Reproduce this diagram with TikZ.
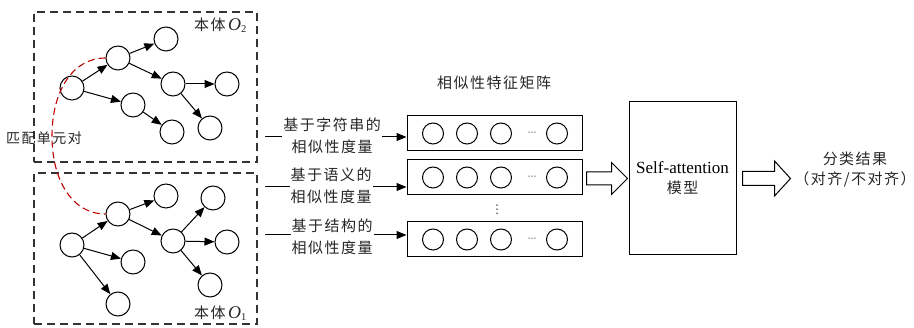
\documentclass[tikz,border=0pt]{standalone}
\usepackage{fontspec}
\setmainfont{Liberation Serif}
\newfontfamily\cjk[LetterSpace=10]{Noto Sans CJK SC}
\newfontfamily\symf{DejaVu Sans}
\usetikzlibrary{arrows.meta, positioning, calc}

\begin{document}
\begin{tikzpicture}[
    % ── Global ──
    x=1pt, y=-1pt,
    % ── Node Styles ──
    gnode/.style={
        circle, draw=black, line width=1pt,
        minimum size=24pt, inner sep=0pt
    },
    cnode/.style={
        circle, draw=black, line width=1pt,
        minimum size=21pt, inner sep=0pt
    },
    ontbox/.style={
        rectangle, draw=black!80, line width=1.3pt,
        dash pattern=on 8pt off 5pt,
        minimum width=223pt, inner sep=0pt
    },
    matbox/.style={
        rectangle, draw=black, line width=1pt,
        minimum width=175pt, minimum height=35pt, inner sep=0pt
    },
    modelbox/.style={
        rectangle, draw=black, line width=1pt,
        minimum width=107pt, minimum height=153pt,
        align=center, inner sep=0pt,
        font=\fontsize{17}{21}\selectfont
    },
    txt/.style={
        font=\cjk\fontsize{15}{22}\selectfont,
        text=black!85, align=center, inner sep=0pt
    },
    dotsym/.style={inner sep=0pt, text=black!75, font=\symf\fontsize{9}{9}\selectfont},
    link/.style={-{Triangle[length=10pt, width=8pt]}, line width=1pt},
    hollow/.style={draw=black, line width=1pt, fill=white, line join=miter},
    pairline/.style={draw=red!75!black, line width=1.1pt, dash pattern=on 7pt off 4pt},
]

\useasboundingbox (0,0) rectangle (914,328);

% ════════════════════════════════════════════════════════
%  ONTOLOGY O2 (top)
% ════════════════════════════════════════════════════════

\node (o2box) [ontbox, minimum height=150pt] at (145.5,87) {};
\node (o2lbl) [txt, anchor=west] at (194,25)
    {本体\,{\rmfamily\itshape\fontsize{18}{18}\selectfont O}\textsubscript{\rmfamily 2}};

\node (o2a) [gnode] at (72,88)  {};
\node (o2b) [gnode] at (118,58) {};
\node (o2c) [gnode] at (166,39) {};
\node (o2d) [gnode] at (173,84) {};
\node (o2e) [gnode] at (227,84) {};
\node (o2f) [gnode] at (133,105) {};
\node (o2g) [gnode] at (172,132) {};
\node (o2h) [gnode] at (210,128) {};

\draw [link] (o2a) -- (o2b);
\draw [link] (o2a) -- (o2f);
\draw [link] (o2b) -- (o2c);
\draw [link] (o2b) -- (o2d);
\draw [link] (o2d) -- (o2e);
\draw [link] (o2d) -- (o2h);
\draw [link] (o2f) -- (o2g);

% ════════════════════════════════════════════════════════
%  ONTOLOGY O1 (bottom)
% ════════════════════════════════════════════════════════

\node (o1box) [ontbox, minimum height=151pt] at (145.5,248.5) {};
\node (o1lbl) [txt, anchor=west] at (194,313)
    {本体\,{\rmfamily\itshape\fontsize{18}{18}\selectfont O}\textsubscript{\rmfamily 1}};

\node (o1a) [gnode] at (72,245)  {};
\node (o1b) [gnode] at (118,214) {};
\node (o1c) [gnode] at (166,196) {};
\node (o1d) [gnode] at (173,241) {};
\node (o1e) [gnode] at (213,198) {};
\node (o1f) [gnode] at (227,242) {};
\node (o1g) [gnode] at (210,285) {};
\node (o1h) [gnode] at (133,262) {};
\node (o1i) [gnode] at (118,304) {};

\draw [link] (o1a) -- (o1b);
\draw [link] (o1a) -- (o1h);
\draw [link] (o1a) -- (o1i);
\draw [link] (o1b) -- (o1c);
\draw [link] (o1b) -- (o1d);
\draw [link] (o1d) -- (o1e);
\draw [link] (o1d) -- (o1f);
\draw [link] (o1d) -- (o1g);

% matched pair
\node (pairlbl) [txt, anchor=west, font=\cjk\fontsize{14}{14}\selectfont] at (6,138) {匹配单元对};
\draw [pairline] (o2b.west) .. controls (72,58) and (52,92) .. (52,136)
    .. controls (52,180) and (72,214) .. (o1b.west);

% ════════════════════════════════════════════════════════
%  SIMILARITY FEATURE MATRIX
% ════════════════════════════════════════════════════════

\node (m1) [matbox] at (494.5,133.5) {};
\node (m2) [matbox] at (494.5,177.5) {};
\node (m3) [matbox] at (494.5,239.5) {};

\node (mtitle) [txt] at (494,83) {相似性特征矩阵};

\node (m1a) [cnode, right=15.5pt of m1.west] {};
\node (m1b) [cnode, right=12pt of m1a] {};
\node (m1c) [cnode, right=12pt of m1b] {};
\node (m1d) [cnode, right=34pt of m1c] {};
\node (m1x) [dotsym] at (532,133.5) {⋯};

\node (m2a) [cnode, right=15.5pt of m2.west] {};
\node (m2b) [cnode, right=12pt of m2a] {};
\node (m2c) [cnode, right=12pt of m2b] {};
\node (m2d) [cnode, right=34pt of m2c] {};
\node (m2x) [dotsym] at (532,177.5) {⋯};

\node (m3a) [cnode, right=15.5pt of m3.west] {};
\node (m3b) [cnode, right=12pt of m3a] {};
\node (m3c) [cnode, right=12pt of m3b] {};
\node (m3d) [cnode, right=34pt of m3c] {};
\node (m3x) [dotsym] at (532,239.5) {⋯};

\node (mvdots) [dotsym, font=\symf\fontsize{12}{12}\selectfont] at (497,210) {⋮};

% ── similarity measures ──
\coordinate (s1) at (265,137);
\coordinate (s2) at (265,187);
\coordinate (s3) at (265,235);

\draw [link] (s1) -- (s1 -| m1.west);
\draw [link] (s2) -- (s2 -| m2.west);
\draw [link] (s3) -- (s3 -| m3.west);

\node (l1) [txt, fill=white, inner sep=1pt] at (332,136)   {基于字符串的\\相似性度量};
\node (l2) [txt, fill=white, inner sep=1pt] at (331,186)   {基于语义的\\相似性度量};
\node (l3) [txt, fill=white, inner sep=1pt] at (332,236.5) {基于结构的\\相似性度量};

% ════════════════════════════════════════════════════════
%  MODEL AND RESULT
% ════════════════════════════════════════════════════════

\node (model) [modelbox] at (682.5,178.5) {Self-attention\\[-1pt]{\cjk\fontsize{15}{15}\selectfont\color{black!85}模型}};

\node (result) [txt, font=\cjk\fontsize{15}{20}\selectfont] at (855,170) {分类结果\\（对齐/不对齐）};

% hollow arrows
\draw [hollow] ($(model.west)+(-42,-6.5)$) -- ++(25,0) -- ++(0,-9.5)
    -- ++(16,16) -- ++(-16,16) -- ++(0,-9.5) -- ++(-25,0) -- cycle;
\draw [hollow] ($(model.east)+(6,-7)$) -- ++(32,0) -- ++(0,-10.5)
    -- ++(16,17.5) -- ++(-16,17.5) -- ++(0,-10.5) -- ++(-32,0) -- cycle;

\end{tikzpicture}
\end{document}
